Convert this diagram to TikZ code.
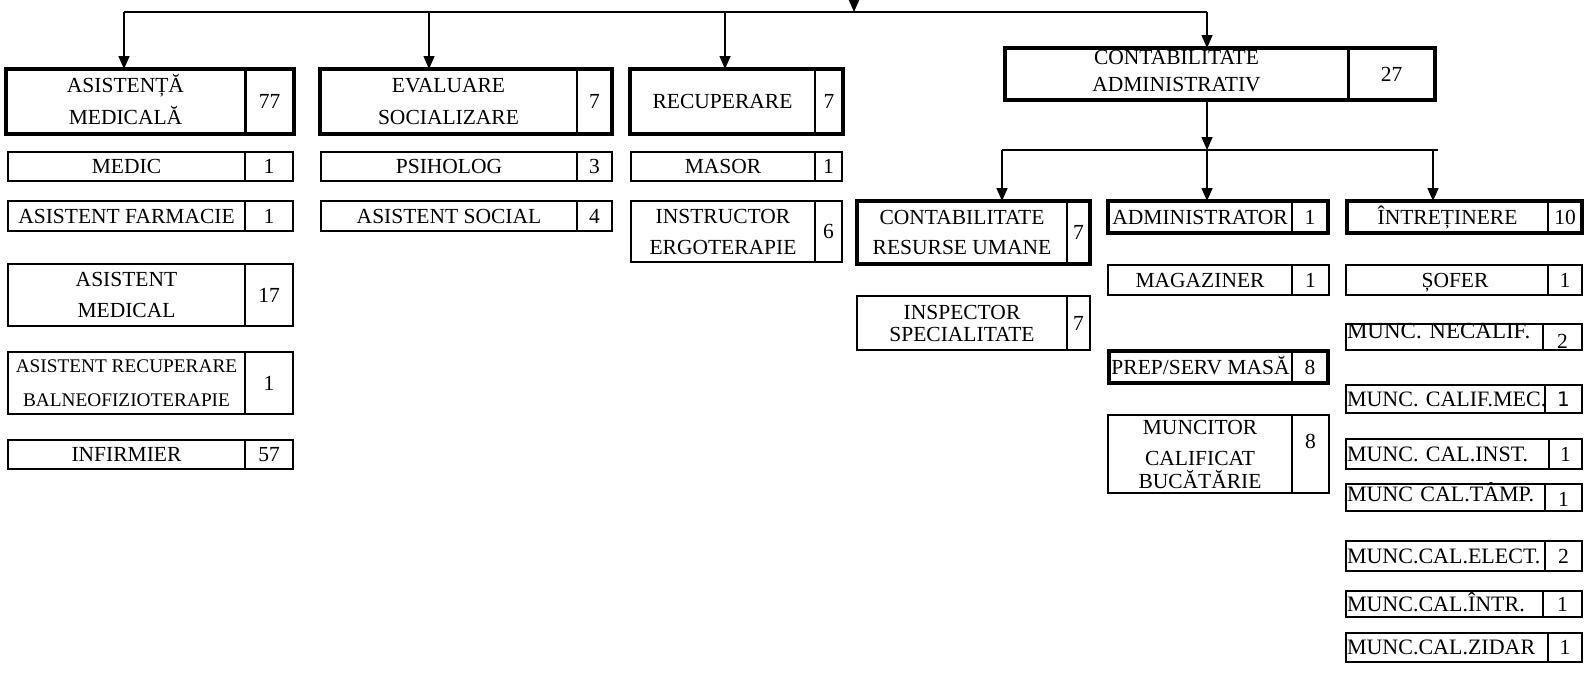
\documentclass[tikz,border=0pt]{standalone}
\usepackage{fontspec}
\setmainfont{Liberation Serif}
\newfontfamily\djv{DejaVu Sans}
\usetikzlibrary{arrows.meta}
\frenchspacing
\newcommand\orgframe[4]{\draw[#3] (#1.north west) rectangle (#2.south east);
  \draw[#4] (#2.north west) -- (#2.south west);}
\tikzset{
  base/.style={anchor=north west, inner sep=0pt, outer sep=0pt, align=center,
    font=\fontsize{21.5}{32}\selectfont, text height=14.2pt, text depth=0pt},
  lab/.style 2 args={base, minimum width=#1pt, minimum height=#2pt},
  lab1/.style 2 args={lab={#1}{#2}},
  num/.style 2 args={base, minimum width=#1pt, minimum height=#2pt},
  labl/.style 2 args={base, align=left, inner xsep=1pt, text width=#1pt,
    minimum height=#2pt, font=\fontsize{22}{26}\selectfont, text height=14.6pt},
  thk/.style={line width=4pt},
  thn/.style={line width=1.5pt},
  mid/.style={line width=2.5pt},
  ln/.style={line width=1.5pt},
  arr/.style={line width=1.5pt, -{Triangle[length=13pt,width=11pt]}},
}
\begin{document}
\begin{tikzpicture}[x=1pt,y=-1pt]
\fill[white] (0,0) rectangle (1586,673);
\useasboundingbox (0,0) rectangle (1586,673);
\clip (0,0) rectangle (1586,673);

% ---------- level 1 ----------
\node[lab={239}{65}, text height=46.2pt] (am) at (6,69) {ASISTENȚĂ\\MEDICALĂ};
\node[num={49}{65}] (amn) at (am.north east) {77};
\orgframe{am}{amn}{thk}{line width=3pt}

\node[lab={257}{65}, text height=46.2pt] (ev) at (320,69) {EVALUARE\\SOCIALIZARE};
\node[num={35}{65}] (evn) at (ev.north east) {7};
\orgframe{ev}{evn}{thk}{mid}

\node[lab1={185}{65}] (rc) at (630,69) {RECUPERARE};
\node[num={28}{65}] (rcn) at (rc.north east) {7};
\orgframe{rc}{rcn}{thk}{thn}

\node[lab={343}{52}, font=\fontsize{21.5}{27}\selectfont, text height=34.2pt] (ca) at (1005,48) {CONTABILITATE\\ADMINISTRATIV};
\node[num={87}{52}] (can) at (ca.north east) {27};
\orgframe{ca}{can}{thk}{line width=3pt}

% ---------- column 1 ----------
\node[lab1={237}{29}] (md) at (8,152) {MEDIC};
\node[num={48}{29}] (mdn) at (md.north east) {1};
\orgframe{md}{mdn}{thn}{thn}

\node[lab1={237}{30}] (af) at (8,201) {ASISTENT FARMACIE};
\node[num={48}{30}] (afn) at (af.north east) {1};
\orgframe{af}{afn}{thn}{thn}

\node[lab={237}{62}, font=\fontsize{21.5}{31}\selectfont, text height=45.2pt] (amd) at (8,264) {ASISTENT\\MEDICAL};
\node[num={48}{62}] (amdn) at (amd.north east) {17};
\orgframe{amd}{amdn}{thn}{thn}

\node[lab={237}{62}, font=\fontsize{19.3}{34}\selectfont, text height=46.8pt] (ar) at (8,352) {ASISTENT RECUPERARE\\BALNEOFIZIOTERAPIE};
\node[num={48}{62}] (arn) at (ar.north east) {1};
\orgframe{ar}{arn}{thn}{thn}

\node[lab1={237}{29}] (inf) at (8,440) {INFIRMIER};
\node[num={48}{29}] (infn) at (inf.north east) {57};
\orgframe{inf}{infn}{thn}{thn}

% ---------- column 2 ----------
\node[lab1={256}{29}] (ps) at (321,152) {PSIHOLOG};
\node[num={35}{29}] (psn) at (ps.north east) {3};
\orgframe{ps}{psn}{thn}{thn}

\node[lab1={256}{30}] (as) at (321,201) {ASISTENT SOCIAL};
\node[num={35}{30}] (asn) at (as.north east) {4};
\orgframe{as}{asn}{thn}{thn}

% ---------- column 3 ----------
\node[lab1={184}{29}] (ms) at (631,152) {MASOR};
\node[num={27}{29}] (msn) at (ms.north east) {1};
\orgframe{ms}{msn}{thn}{thn}

\node[lab={184}{61}, font=\fontsize{21.5}{31}\selectfont, text height=45.2pt] (ie) at (631,201) {INSTRUCTOR\\ERGOTERAPIE};
\node[num={27}{61}] (ien) at (ie.north east) {6};
\orgframe{ie}{ien}{thn}{thn}

% ---------- level 2 ----------
\node[lab={210}{63}, font=\fontsize{21.5}{30}\selectfont, text height=44.2pt] (cr) at (857,201) {CONTABILITATE\\RESURSE UMANE};
\node[num={23}{63}] (crn) at (cr.north east) {7};
\orgframe{cr}{crn}{thk}{thn}

\node[lab={210}{54}, font=\fontsize{21.5}{22}\selectfont, text height=36.2pt] (ins) at (857,296) {INSPECTOR\\SPECIALITATE};
\node[num={23}{54}] (insn) at (ins.north east) {7};
\orgframe{ins}{insn}{thn}{thn}

\node[lab1={184}{32}] (ad) at (1108,201) {ADMINISTRATOR};
\node[num={36}{32}] (adn) at (ad.north east) {1};
\orgframe{ad}{adn}{thk}{thn}

\node[lab1={184}{30}] (mg) at (1108,265) {MAGAZINER};
\node[num={37}{30}] (mgn) at (mg.north east) {1};
\orgframe{mg}{mgn}{thn}{thn}

\node[lab1={183}{32}] (pr) at (1109,351) {PREP/SERV MASĂ};
\node[num={36}{32}] (prn) at (pr.north east) {8};
\orgframe{pr}{prn}{thk}{thn}

\node[lab={184}{78}, font=\fontsize{21.5}{23}\selectfont, text height=68.2pt] (mc) at (1108,415) {MUNCITOR\\[8pt]CALIFICAT\\BUCĂTĂRIE};
\node[num={37}{78}] (mcn) at (mc.north east) {\raisebox{13pt}{8}};
\orgframe{mc}{mcn}{thn}{thn}

\node[lab1={201}{32}] (it) at (1347,201) {ÎNTREȚINERE};
\node[num={34}{32}] (itn) at (it.north east) {10};
\orgframe{it}{itn}{thk}{thn}

% ---------- right column ----------
\node[lab1={202}{30}] (so) at (1346,265) {\hspace*{16pt}ȘOFER};
\node[num={34}{30}] (son) at (so.north east) {1};
\orgframe{so}{son}{thn}{thn}

\node[labl={195}{26}, font=\fontsize{23}{26}\selectfont] (nc) at (1346,324) {\raisebox{6pt}{\mbox{MUNC. NECALIF.}}};
\node[num={39}{26}] (ncn) at (nc.north east) {\raisebox{-4pt}{2}};
\orgframe{nc}{ncn}{thn}{thn}

\node[labl={197}{28}] (cm) at (1346,385) {\mbox{MUNC. CALIF.MEC.}};
\node[num={37}{28}] (cmn) at (cm.north east) {{\djv\fontsize{20}{24}\selectfont 1}};
\orgframe{cm}{cmn}{thn}{thn}

\node[labl={201}{30}] (ci) at (1346,439) {\mbox{MUNC. CAL.INST.}};
\node[num={33}{30}] (cin) at (ci.north east) {1};
\orgframe{ci}{cin}{thn}{thn}

\node[labl={197}{27}] (ct) at (1346,484) {\raisebox{3pt}{\mbox{MUNC CAL.TÂMP.}}};
\node[num={37}{27}] (ctn) at (ct.north east) {\raisebox{-2pt}{1}};
\orgframe{ct}{ctn}{thn}{thn}

\node[labl={197}{30}] (ce) at (1346,541) {\mbox{MUNC.CAL.ELECT.}};
\node[num={37}{30}] (cen) at (ce.north east) {2};
\orgframe{ce}{cen}{thn}{thn}

\node[labl={195}{26}] (cn) at (1346,591) {\mbox{MUNC.CAL.ÎNTR.}};
\node[num={39}{26}] (cnn) at (cn.north east) {1};
\orgframe{cn}{cnn}{thn}{thn}

\node[labl={200}{29}] (cz) at (1346,633) {\mbox{MUNC.CAL.ZIDAR}};
\node[num={34}{29}] (czn) at (cz.north east) {1};
\orgframe{cz}{czn}{thn}{thn}

% ---------- connectors ----------
\coordinate (root) at (854,-30);
\coordinate (b1a) at (124,12);
\coordinate (b1b) at (429,12);
\coordinate (b1c) at (725,12);
\coordinate (b1d) at (1207,12);
\draw[ln] (b1a) -- (b1d);
\draw[arr] (root) -- (root |- b1a);
\draw[arr] (b1a) -- (b1a |- am.north);
\draw[arr] (b1b) -- (b1b |- ev.north);
\draw[arr] (b1c) -- (b1c |- rc.north);
\draw[arr] (b1d) -- (b1d |- ca.north);

\coordinate (b2a) at (1002,150);
\coordinate (b2b) at (1207,150);
\coordinate (b2c) at (1433,150);
\coordinate (b2e) at (1438,150);
\draw[ln] (b2a) -- (b2e);
\draw[arr] (b2b |- ca.south) -- (b2b);
\draw[arr] (b2a) -- (b2a |- cr.north);
\draw[arr] (b2b) -- (b2b |- ad.north);
\draw[arr] (b2c) -- (b2c |- it.north);
\end{tikzpicture}
\end{document}
